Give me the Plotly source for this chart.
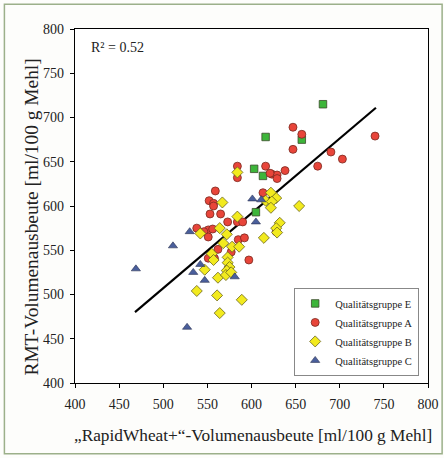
import plotly.graph_objects as go

# Qualitätsgruppe E
e_x = [681, 657, 616, 603, 613, 605]
e_y = [715, 675, 678, 642, 634, 593]

# Qualitätsgruppe A
a_x = [657, 740, 690, 703, 675, 647, 647, 584, 584, 616, 623, 629, 638, 629, 621,
       559, 552, 557, 553, 565, 573, 584, 590, 538, 551, 556, 546, 585, 592, 562,
       577, 551, 558, 597, 613, 628, 551, 557]
a_y = [681, 679, 661, 653, 645, 689, 664, 645, 632, 645, 636, 635, 640, 631, 637,
       617, 606, 603, 591, 591, 582, 582, 582, 575, 573, 574, 571, 562, 564, 551,
       548, 541, 541, 539, 615, 571, 565, 600]

# Qualitätsgruppe B
b_x = [584, 567, 584, 564, 542, 572, 568, 578, 586, 555, 573, 557, 573, 575, 547,
       572, 562, 538, 561, 589, 564, 622, 628, 616, 623, 654, 622, 632, 628, 629,
       614, 571, 577]
b_y = [638, 604, 588, 575, 569, 568, 558, 554, 554, 546, 542, 539, 536, 531, 528,
       527, 519, 504, 499, 494, 479, 615, 609, 606, 605, 600, 598, 581, 575, 570,
       564, 522, 525]

# Qualitätsgruppe C
c_x = [469, 511, 527, 530, 542, 534, 547, 581, 601, 611, 605]
c_y = [529, 555, 463, 571, 534, 525, 516, 520, 608, 607, 582]

# Regressionsgerade
trend_x = [468, 741]
trend_y = [480, 711]

x_ticks = [400, 450, 500, 550, 600, 650, 700, 750, 800]
y_ticks = [400, 450, 500, 550, 600, 650, 700, 750, 800]

serif = "Liberation Serif"

fig = go.Figure()
fig.add_trace(go.Scatter(x=trend_x, y=trend_y, mode="lines",
                         line=dict(color="black", width=2.2), showlegend=False,
                         hoverinfo="skip"))
fig.add_trace(go.Scatter(x=e_x, y=e_y, mode="markers", name="Qualitätsgruppe E",
                         marker=dict(symbol="square", size=7.5, color="#3db53a",
                                     line=dict(color="#3a4a2a", width=0.8))))
fig.add_trace(go.Scatter(x=a_x, y=a_y, mode="markers", name="Qualitätsgruppe A",
                         marker=dict(symbol="circle", size=8, color="#e8453a",
                                     line=dict(color="#7a2a20", width=0.8))))
fig.add_trace(go.Scatter(x=b_x, y=b_y, mode="markers", name="Qualitätsgruppe B",
                         marker=dict(symbol="diamond", size=8.5, color="#f2ea1e",
                                     line=dict(color="#6a6420", width=0.8))))
fig.add_trace(go.Scatter(x=c_x, y=c_y, mode="markers", name="Qualitätsgruppe C",
                         marker=dict(symbol="triangle-up", size=8, color="#4a5f9c",
                                     line=dict(color="#2a3050", width=0.6))))

fig.update_layout(
    width=444, height=458,
    margin=dict(l=75, r=16, t=29, b=75),
    paper_bgcolor="#fdfdfb", plot_bgcolor="white",
    font=dict(family=serif, color="#222222"),
    xaxis=dict(range=[400, 800], tickvals=x_ticks, showgrid=False, zeroline=False,
               showline=True, linecolor="black", linewidth=1.2, mirror=True,
               ticks="outside", ticklen=4, tickcolor="black", automargin=False,
               ticklabelstandoff=4,
               tickfont=dict(size=14, family=serif)),
    yaxis=dict(range=[400, 800], tickvals=y_ticks, showgrid=False, zeroline=False,
               showline=True, linecolor="black", linewidth=1.2, mirror=True,
               ticks="outside", ticklen=4, tickcolor="black", automargin=False,
               ticklabelstandoff=3,
               tickfont=dict(size=14, family=serif)),
    legend=dict(x=0.975, y=0.02, xanchor="right", yanchor="bottom",
                bgcolor="white", bordercolor="#888888", borderwidth=1,
                font=dict(size=10.5, family=serif), itemwidth=30,
                tracegroupgap=0),
    annotations=[
        dict(text="R² = 0.52", xref="paper", yref="paper", x=0.04, y=0.949,
             xanchor="left", yanchor="middle", showarrow=False,
             font=dict(size=14, family=serif)),
        dict(text="„RapidWheat+“-Volumenausbeute [ml/100 g Mehl]", xref="paper",
             yref="paper", x=0.504, y=-0.147, xanchor="center", yanchor="middle",
             showarrow=False, font=dict(size=17.3, family=serif)),
        dict(text="RMT-Volumenausbeute [ml/100 g Mehl]", xref="paper",
             yref="paper", x=-0.122, y=0.47, xanchor="center", yanchor="middle",
             textangle=-90, showarrow=False, font=dict(size=19.4, family=serif)),
    ],
    shapes=[dict(type="rect", xref="paper", yref="paper", x0=-0.2, y0=-0.2,
                 x1=1.04, y1=1.07, line=dict(color="#9cb08a", width=1.5),
                 layer="below")],
)
fig.write_html("out.html", config={"displayModeBar": False},
               post_script="document.body.style.margin='0';document.body.style.overflow='hidden';")
